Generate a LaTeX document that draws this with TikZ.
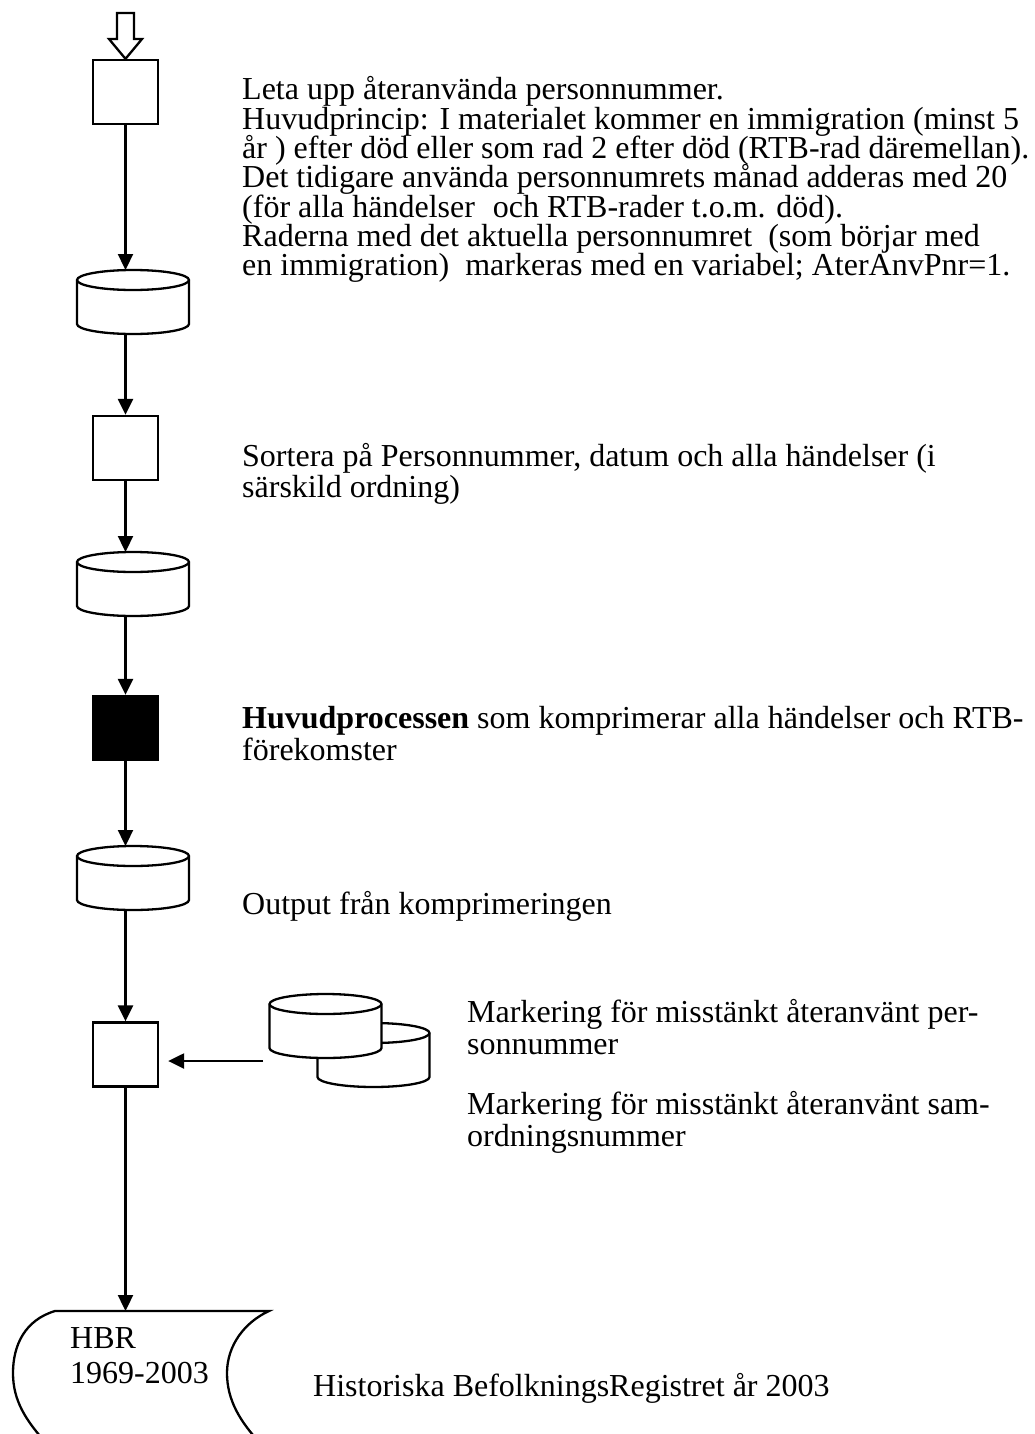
\documentclass[tikz,border=0pt]{standalone}
\usepackage{fontspec}
\setmainfont{Liberation Serif}
\usetikzlibrary{arrows.meta}
\tikzset{
  dbcyl/.pic={
    \path[fill=white,draw,line width=2.3pt] (-56,0) -- (-56,44)
      .. controls (-56,49.5) and (-31,54) .. (0,54)
      .. controls (31,54) and (56,49.5) .. (56,44) -- (56,0)
      .. controls (56,-5.5) and (31,-10) .. (0,-10)
      .. controls (-31,-10) and (-56,-5.5) .. (-56,0) -- cycle;
    \draw[line width=2.3pt] (-56,0) .. controls (-56,5.5) and (-31,10) .. (0,10)
      .. controls (31,10) and (56,5.5) .. (56,0);
    \coordinate (-n) at (0,-10);
    \coordinate (-s) at (0,54);
  }
}
\begin{document}
\begin{tikzpicture}[x=1pt,y=-1pt,
  flow/.style={-{Triangle[width=15pt,length=16pt]}, line width=2.3pt},
  procbox/.style={draw, line width=2.3pt, minimum width=65pt, minimum height=64pt, inner sep=0pt},
  txt/.style={anchor=base west, inner sep=0pt, font=\fontsize{32}{32}\selectfont},
]
\useasboundingbox[fill=white] (0,0) rectangle (1035,1434);
\clip (0,0) rectangle (1035,1434);

% process boxes
\node[procbox] (b1) at (125.5,92) {};
\node[procbox] (b2) at (125.5,448) {};
\node[procbox, fill=black] (b3) at (125.5,728) {};
\node[procbox] (b4) at (125.5,1054.5) {};

% hollow entry arrow
\draw[line width=2.3pt, fill=white] (117,13) -- (134,13) -- (134,39) -- (142,39)
  -- (b1.north) -- (109,39) -- (117,39) -- cycle;

% storage cylinders
\pic (c1) at (133,280) {dbcyl};
\pic (c2) at (133,562) {dbcyl};
\pic (c3) at (133,856) {dbcyl};
\pic (c5) at (373.5,1033) {dbcyl};
\pic (c4) at (325.5,1004) {dbcyl};
\coordinate (c4w) at (263,1061);

% stored data shape (HBR)
\coordinate (hbr) at (125.5,1311);
\draw[line width=2.3pt] (48,1445) .. controls (25,1420) and (13,1400) .. (13,1373)
  .. controls (13,1345) and (25,1320) .. (55,1311) -- (269,1311)
  .. controls (245,1322) and (227,1345) .. (227,1373)
  .. controls (227,1400) and (240,1422) .. (262,1445);

% connectors
\draw[flow] (b1.south) -- (b1.south |- c1-n);
\draw[flow] (b1.south |- c1-s) -- (b2.north);
\draw[flow] (b2.south) -- (b2.south |- c2-n);
\draw[flow] (b2.south |- c2-s) -- (b3.north);
\draw[flow] (b3.south) -- (b3.south |- c3-n);
\draw[flow] (b3.south |- c3-s) -- (b4.north);
\draw[flow] (c4w) -- ([xshift=9pt]b4.east |- c4w);
\draw[flow] (b4.south) -- (hbr);

% texts
\node[txt] (t1) at (242,100) {Leta upp återanvända personnummer.};
\node[txt] (t2) at (242,130) {Huvudprincip: I materialet kommer en immigration (minst 5};
\node[txt] (t3) at (242,159) {år ) efter död eller som rad 2 efter död (RTB-rad däremellan).};
\node[txt] (t4) at (242,188) {Det tidigare använda personnumrets månad adderas med 20};
\node[txt] (t5) at (242,217) {(för alla händelser\hspace{10pt} och RTB-rader t.o.m. död).};
\node[txt] (t6) at (242,246) {Raderna med det aktuella personnumret\ \ (som börjar med};
\node[txt] (t7) at (242,275) {en immigration)\ \ markeras med en variabel; AterAnvPnr=1.};

\node[txt] (s1) at (242,466) {Sortera på Personnummer, datum och alla händelser (i};
\node[txt] (s2) at (242,497) {särskild ordning)};

\node[txt] (h1) at (242,728) {\textbf{Huvudprocessen} som komprimerar alla händelser och RTB-};
\node[txt] (h2) at (242,760) {förekomster};

\node[txt] (o1) at (242,914) {Output från komprimeringen};

\node[txt] (m1) at (467,1022) {Markering för misstänkt återanvänt per-};
\node[txt] (m2) at (467,1054) {sonnummer};
\node[txt] (m3) at (467,1114) {Markering för misstänkt återanvänt sam-};
\node[txt] (m4) at (467,1146) {ordningsnummer};

\node[txt] (r1) at (70,1348) {HBR};
\node[txt] (r2) at (70,1383) {1969-2003};
\node[txt] (r3) at (313,1396) {Historiska BefolkningsRegistret år 2003};
\end{tikzpicture}
\end{document}
